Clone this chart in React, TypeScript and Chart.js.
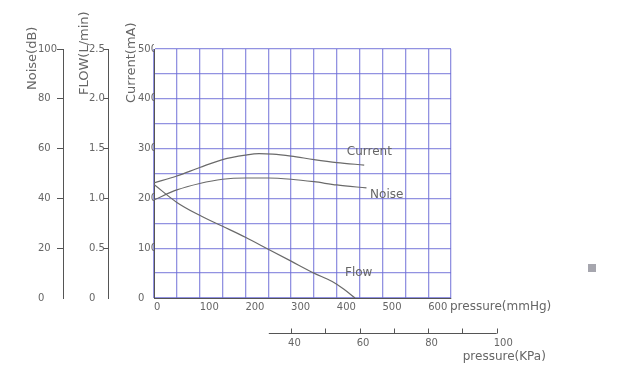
import React, { useEffect, useRef } from 'react';
import { Chart, registerables } from 'chart.js';

Chart.register(...registerables);

// ---- data (x in mmHg) ----
const currentPressure = [0, 50, 100, 150, 200, 230, 260, 300, 350, 400, 460];
const currentMA = [231, 245, 262, 278, 287, 290, 289, 285, 278, 272, 267];

const noisePressure = [0, 50, 100, 150, 200, 250, 300, 350, 400, 465];
const noiseDB = [39.4, 43.4, 46, 47.7, 48.2, 48.2, 47.7, 46.7, 45.4, 44.2];

const flowPressure = [0, 50, 100, 150, 200, 250, 300, 350, 390, 415, 440];
const flowLmin = [1.14, 0.96, 0.83, 0.72, 0.61, 0.49, 0.37, 0.25, 0.165, 0.09, 0];

// ---- tick labels ----
const xTickLabels = [0, 100, 200, 300, 400, 500, 600];
const currentTickLabels = [0, 100, 200, 300, 400, 500];
const noiseTickLabels = ['0', '20', '40', '60', '80', '100'];
const flowTickLabels = ['0', '0.5', '1.0', '1.5', '2.0', '2.5'];
const kpaTicks = [40, 50, 60, 70, 80, 90, 100];
const kpaTickLabels = [40, 60, 80, 100];
const kpaAxisStart = 33.5;
const KPA_TO_MMHG = 7.50062;

// ---- curve labels (data coordinates) ----
const curveLabels = [
  { text: 'Current', x: 422, y: 293, axis: 'yCurrent' },
  { text: 'Noise', x: 473, y: 41.4, axis: 'yNoise' },
  { text: 'Flow', x: 418, y: 0.25, axis: 'yFlow' },
];

const FONT = '"DejaVu Sans", sans-serif';
const GRID = 'rgba(110,110,215,0.75)';
const AXIS = '#555555';
const TEXT = '#666666';
const LINE = '#6a6a6a';
const NONE = 'rgba(0,0,0,0)';

const toXY = (xs: number[], ys: number[]) => xs.map((x, i) => ({ x, y: ys[i] }));

const decorPlugin = {
  id: 'decor',
  afterDraw(chart: any) {
    const ctx = chart.ctx as CanvasRenderingContext2D;
    const xs = chart.scales.x;
    const area = chart.chartArea;
    ctx.save();
    ctx.fillStyle = TEXT;

    // rotated axis titles
    ctx.font = `13px ${FONT}`;
    const titles = [
      { text: 'Noise(dB)', scale: chart.scales.yNoise, dx: -5 },
      { text: 'FLOW(L/min)', scale: chart.scales.yFlow, dx: -4 },
      { text: 'Current(mA)', scale: chart.scales.yCurrent, dx: -6 },
    ];
    const bottoms = [90, 95, 103];
    titles.forEach((t, i) => {
      ctx.save();
      ctx.translate(t.scale.left + t.dx, bottoms[i]);
      ctx.rotate(-Math.PI / 2);
      ctx.textAlign = 'left';
      ctx.textBaseline = 'middle';
      ctx.fillText(t.text, 0, 0);
      ctx.restore();
    });

    // curve labels
    ctx.font = `12px ${FONT}`;
    ctx.textAlign = 'left';
    ctx.textBaseline = 'middle';
    curveLabels.forEach((l) => {
      const sc = chart.scales[l.axis];
      ctx.fillText(l.text, xs.getPixelForValue(l.x), sc.getPixelForValue(l.y));
    });

    // x title
    ctx.fillText('pressure(mmHg)', area.right - 1, area.bottom + 9);

    // KPa axis
    const ly = area.bottom + 35.5;
    const px = (k: number) => xs.getPixelForValue(k * KPA_TO_MMHG);
    ctx.strokeStyle = AXIS;
    ctx.lineWidth = 1;
    ctx.beginPath();
    ctx.moveTo(px(kpaAxisStart), ly);
    ctx.lineTo(px(kpaTicks[kpaTicks.length - 1]), ly);
    kpaTicks.forEach((k) => {
      const x = Math.round(px(k)) + 0.5;
      ctx.moveTo(x, ly);
      ctx.lineTo(x, ly - 5);
    });
    ctx.stroke();
    ctx.font = `10px ${FONT}`;
    kpaTickLabels.forEach((k) => {
      ctx.fillText(String(k), px(k) - 3, ly + 10);
    });
    ctx.font = `12px ${FONT}`;
    ctx.fillText('pressure(KPa)', px(100) - 34, ly + 23);

    // small gray mark
    ctx.fillStyle = '#a6a6ae';
    ctx.fillRect(588, 264, 8, 8);
    ctx.restore();
  },
};

export default function App() {
  const ref = useRef<HTMLCanvasElement>(null);

  useEffect(() => {
    if (!ref.current) return;
    const tickFont = { family: FONT, size: 10 };
    const lineStyle = {
      borderColor: LINE,
      borderWidth: 1.2,
      pointRadius: 0,
      cubicInterpolationMode: 'monotone' as const,
      fill: false,
    };
    const chart = new Chart(ref.current, {
      type: 'line',
      data: {
        datasets: [
          { label: 'Current', data: toXY(currentPressure, currentMA), yAxisID: 'yCurrent', ...lineStyle },
          { label: 'Noise', data: toXY(noisePressure, noiseDB), yAxisID: 'yNoise', ...lineStyle },
          { label: 'Flow', data: toXY(flowPressure, flowLmin), yAxisID: 'yFlow', ...lineStyle },
        ],
      },
      options: {
        responsive: false,
        animation: false,
        events: [],
        layout: { padding: { left: 38, top: 49, right: 172, bottom: 59 } },
        plugins: { legend: { display: false }, tooltip: { enabled: false }, title: { display: false } },
        scales: {
          x: {
            type: 'linear',
            position: 'bottom',
            min: 0,
            max: 650,
            ticks: {
              stepSize: 50,
              autoSkip: false,
              maxRotation: 0,
              align: 'start',
              padding: 3,
              font: tickFont,
              color: TEXT,
              callback: (v: any) => (xTickLabels.includes(Number(v)) ? String(v) : ''),
            },
            grid: { color: GRID, drawTicks: false, lineWidth: 1.3 },
            border: { color: AXIS, width: 1 },
            afterFit: (s: any) => { s.height = 20; },
          },
          yNoise: {
            type: 'linear',
            position: 'left',
            weight: 5,
            min: 0,
            max: 100,
            ticks: {
              stepSize: 20,
              autoSkip: false,
              crossAlign: 'far',
              padding: 0,
              font: tickFont,
              color: TEXT,
              callback: (_v: any, i: number) => noiseTickLabels[i],
            },
            grid: {
              drawOnChartArea: false,
              drawTicks: true,
              tickLength: 6,
              color: NONE,
              tickColor: (c: any) => (c.tick && c.tick.value === 0 ? NONE : AXIS),
            },
            border: { color: AXIS, width: 1 },
            afterFit: (s: any) => { s.width = 25; },
          },
          spacer1: {
            type: 'linear',
            position: 'left',
            weight: 4,
            ticks: { display: false },
            grid: { display: false, color: NONE },
            border: { display: false },
            afterFit: (s: any) => { s.width = 26; },
          },
          yFlow: {
            type: 'linear',
            position: 'left',
            weight: 3,
            min: 0,
            max: 2.5,
            ticks: {
              stepSize: 0.5,
              autoSkip: false,
              crossAlign: 'far',
              padding: 0,
              font: tickFont,
              color: TEXT,
              callback: (_v: any, i: number) => flowTickLabels[i],
            },
            grid: {
              drawOnChartArea: false,
              drawTicks: true,
              tickLength: 5,
              color: NONE,
              tickColor: (c: any) => (c.tick && c.tick.value === 0 ? NONE : AXIS),
            },
            border: { color: AXIS, width: 1 },
            afterFit: (s: any) => { s.width = 19; },
          },
          spacer2: {
            type: 'linear',
            position: 'left',
            weight: 2,
            ticks: { display: false },
            grid: { display: false, color: NONE },
            border: { display: false },
            afterFit: (s: any) => { s.width = 30; },
          },
          yCurrent: {
            type: 'linear',
            position: 'left',
            weight: 1,
            min: 0,
            max: 500,
            ticks: {
              stepSize: 50,
              autoSkip: false,
              crossAlign: 'far',
              padding: 0,
              font: tickFont,
              color: TEXT,
              callback: (v: any) => (currentTickLabels.includes(Number(v)) ? String(v) : ''),
            },
            grid: { color: GRID, drawTicks: false, lineWidth: 1.3 },
            border: { color: AXIS, width: 1 },
            afterFit: (s: any) => { s.width = 16; },
          },
        },
      } as any,
      plugins: [decorPlugin],
    });
    return () => chart.destroy();
  }, []);

  return (
    <canvas
      ref={ref}
      width={623}
      height={377}
      style={{ position: 'fixed', left: 0, top: 0, width: 623, height: 377, display: 'block', background: '#fff' }}
    />
  );
}
